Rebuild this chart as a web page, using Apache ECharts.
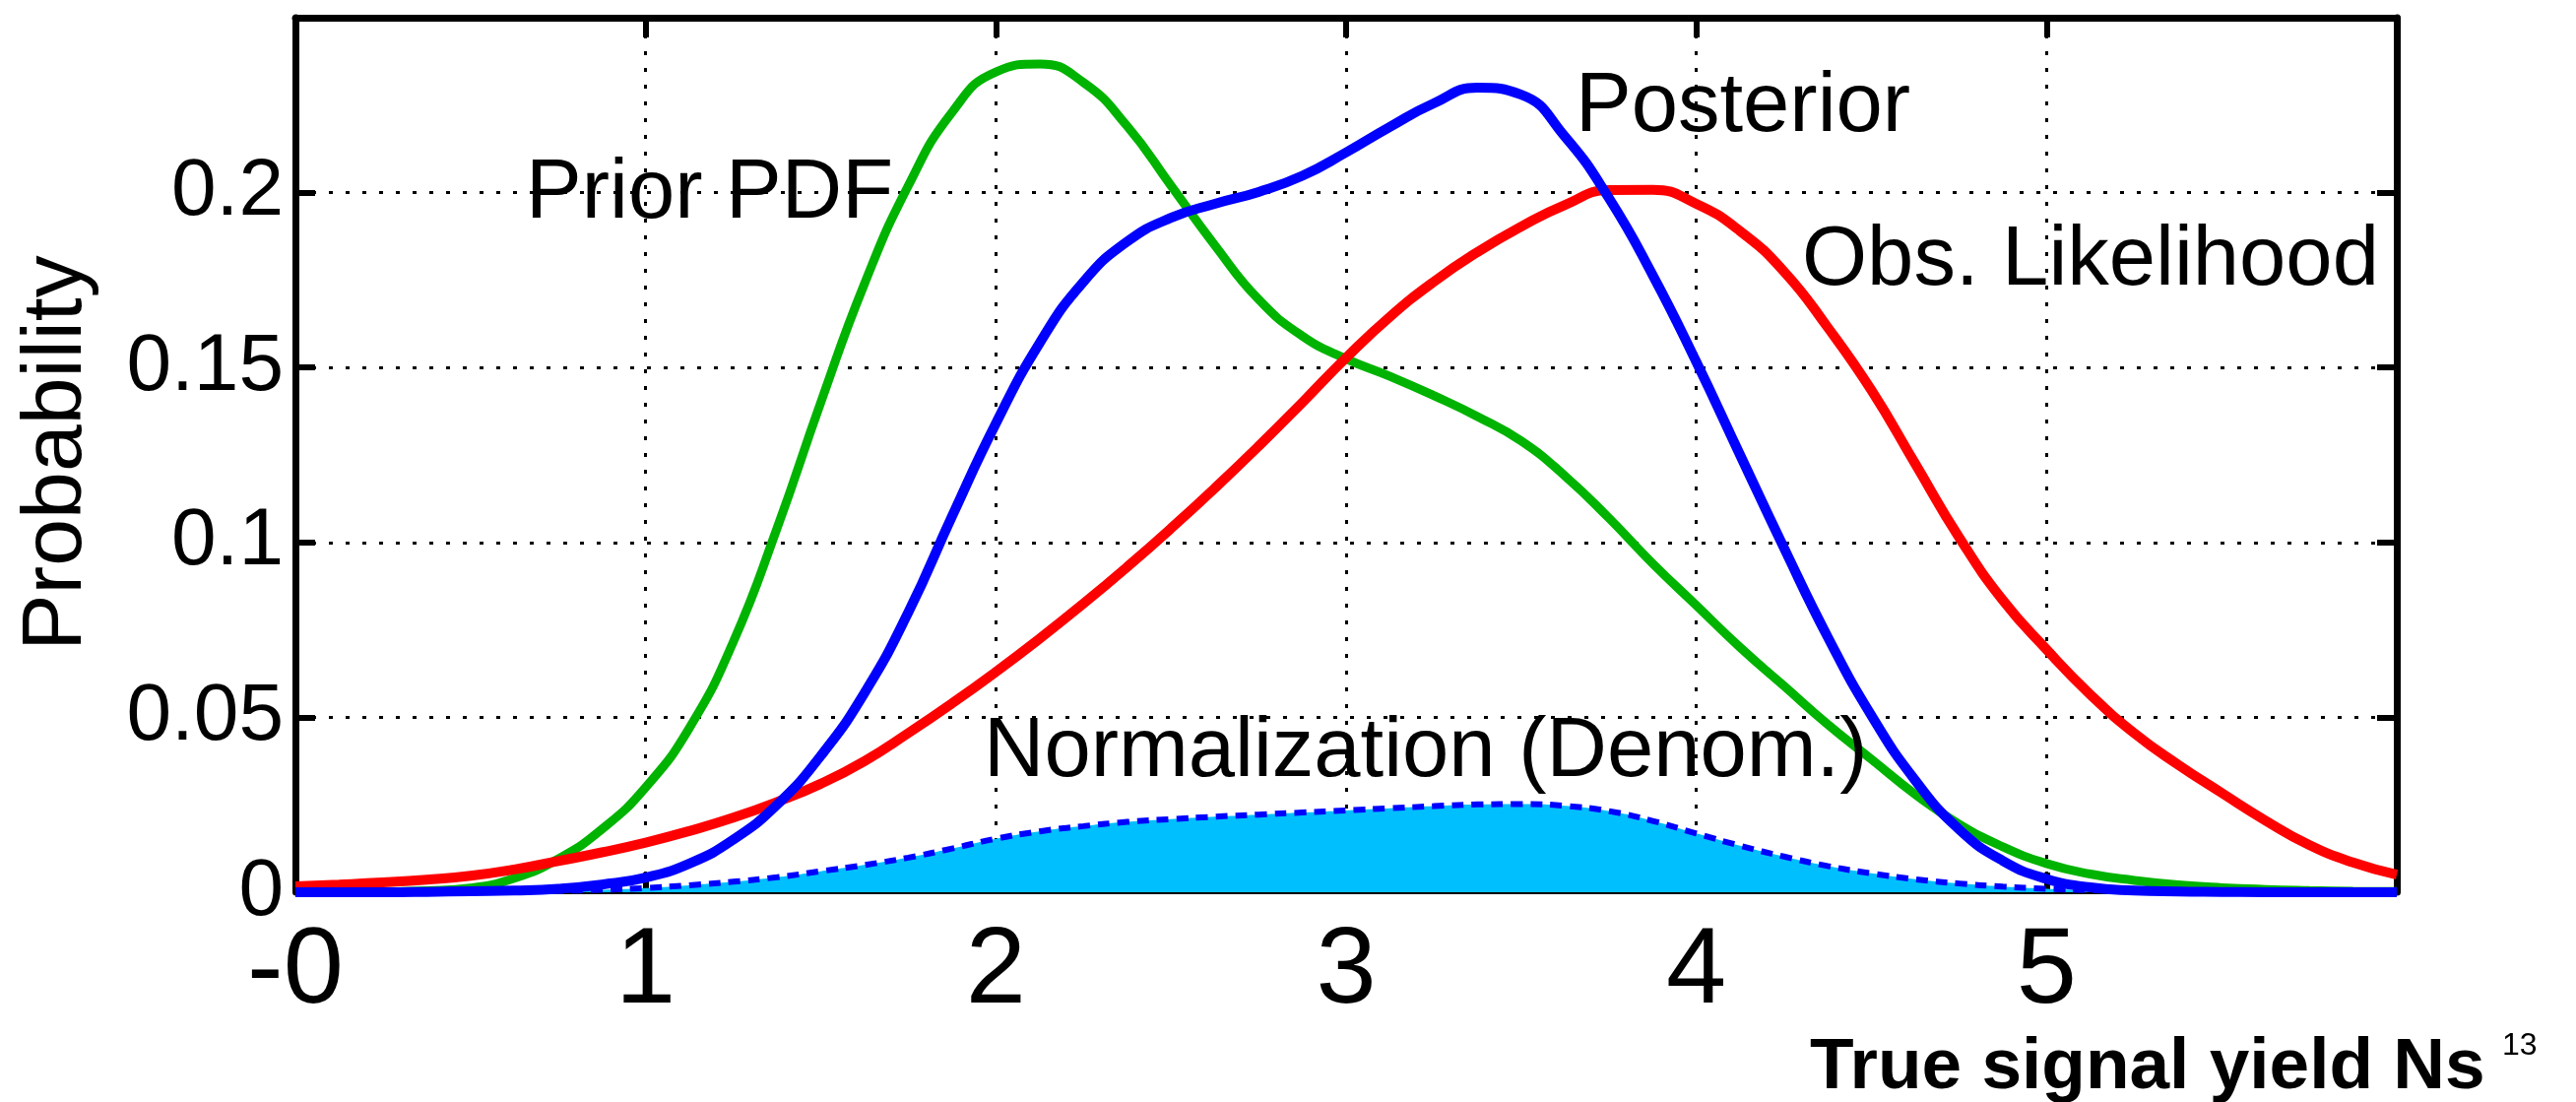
<!DOCTYPE html>
<html>
<head>
<meta charset="utf-8">
<script src="https://cdn.jsdelivr.net/npm/echarts@6/dist/echarts.min.js"></script>
<style>
html,body{margin:0;padding:0;background:#fff;}
#chart{width:2616px;height:1119px;}
</style>
</head>
<body>
<div id="chart"></div>
<script>
// ---- data ----
const ns = [0,0.125,0.25,0.375,0.5,0.625,0.75,0.875,1,1.125,1.25,1.375,1.5,1.625,1.75,1.875,2,2.125,2.25,2.375,2.5,2.625,2.75,2.875,3,3.125,3.25,3.375,3.5,3.625,3.75,3.875,4,4.125,4.25,4.375,4.5,4.625,4.75,4.875,5,5.125,5.25,5.375,5.5,5.625,5.75,5.875,6];
const priorPDF = [0,0,0.0001,0.0004,0.0012,0.004,0.0095,0.018,0.030,0.047,0.0715,0.104,0.140,0.174,0.202,0.223,0.2345,0.2368,0.2315,0.219,0.202,0.185,0.1695,0.159,0.1525,0.1475,0.142,0.136,0.129,0.119,0.107,0.094,0.082,0.070,0.059,0.048,0.038,0.028,0.0195,0.013,0.0082,0.0052,0.0034,0.0021,0.0013,0.0008,0.0005,0.0003,0.0002];
const likelihood = [0.0017,0.0022,0.0028,0.0036,0.0047,0.0065,0.0089,0.0114,0.0142,0.0175,0.0213,0.0258,0.031,0.0375,0.0455,0.054,0.063,0.0725,0.0825,0.093,0.104,0.1155,0.1275,0.140,0.1528,0.1645,0.1745,0.183,0.1903,0.1965,0.2007,0.2008,0.1968,0.189,0.1775,0.1615,0.1435,0.1225,0.1015,0.0835,0.0694,0.0565,0.0455,0.0365,0.0284,0.0205,0.0135,0.0085,0.005];
const posterior = [0,0,0,0.0001,0.0003,0.0005,0.001,0.0022,0.0042,0.0082,0.015,0.025,0.039,0.057,0.080,0.1075,0.134,0.157,0.1745,0.186,0.1928,0.1968,0.2002,0.2048,0.2115,0.2188,0.2255,0.230,0.228,0.216,0.1985,0.1765,0.1516,0.125,0.0985,0.073,0.0505,0.032,0.018,0.009,0.0038,0.0014,0.0005,0.0002,0.0001,0,0,0,0];
const normalization = [0,0,0,0.0001,0.0001,0.0002,0.0004,0.0007,0.0012,0.002,0.003,0.0043,0.006,0.0078,0.0099,0.0125,0.0153,0.0174,0.0189,0.0201,0.0209,0.0216,0.0222,0.0228,0.0234,0.024,0.0246,0.0251,0.0252,0.0247,0.0232,0.0204,0.0168,0.0133,0.0102,0.0075,0.0054,0.0037,0.0025,0.0016,0.001,0.0006,0.0004,0.0002,0.0001,0,0,0,0];
const xTickLabels = ['-0','1','2','3','4','5',''];
const yTickLabels = ['0','0.05','0.1','0.15','0.2',''];
const annotations = ['Prior PDF','Posterior','Obs. Likelihood','Normalization (Denom.)'];
const yAxisTitle = 'Probability';
const xAxisTitle = 'True signal yield Ns';
const pageNumber = '13';

const pairs = ys => ns.map((x,i)=>[x, ys[i]]);

const chart = echarts.init(document.getElementById('chart'), null, {renderer:'canvas'});
const FONT = 'Liberation Sans, Arial, Helvetica, sans-serif';
const grid = {left:300, right:182, top:18, bottom:213};
const dotted = {show:true, lineStyle:{color:'#000', width:3, type:[4,13]}};
const SM = 0.5;

const option = {
  animation:false,
  backgroundColor:'#fff',
  grid: grid,
  xAxis:[
    {type:'value', min:0, max:6, interval:1, position:'bottom',
     axisLine:{show:true, onZero:false, lineStyle:{color:'#000', width:4}},
     axisTick:{show:true, inside:true, length:20, lineStyle:{color:'#000', width:6}},
     axisLabel:{show:true, margin:27, fontFamily:FONT, fontSize:110, color:'#000',
       showMinLabel:true, showMaxLabel:true,
       formatter:v=>xTickLabels[Math.round(v)] ?? ''},
     splitLine:dotted},
    {type:'value', min:0, max:6, interval:1, position:'top',
     axisLine:{show:true, onZero:false, lineStyle:{color:'#000', width:7}},
     axisTick:{show:true, inside:true, length:20, lineStyle:{color:'#000', width:6}},
     axisLabel:{show:false}, splitLine:{show:false}}
  ],
  yAxis:[
    {type:'value', min:0, max:0.25, interval:0.05, position:'left',
     axisLine:{show:true, onZero:false, lineStyle:{color:'#000', width:7}},
     axisTick:{show:true, inside:true, length:20, lineStyle:{color:'#000', width:6}},
     axisLabel:{show:true, margin:12, fontFamily:FONT, fontSize:82, color:'#000',
       showMinLabel:true, showMaxLabel:true,
       formatter:v=>yTickLabels[Math.round(v/0.05)] ?? ''},
     splitLine:dotted},
    {type:'value', min:0, max:0.25, interval:0.05, position:'right',
     axisLine:{show:true, onZero:false, lineStyle:{color:'#000', width:7}},
     axisTick:{show:true, inside:true, length:20, lineStyle:{color:'#000', width:6}},
     axisLabel:{show:false}, splitLine:{show:false}}
  ],
  series:[
    {name:'Normalization fill', type:'line', data:pairs(normalization), smooth:SM, symbol:'none', clip:false,
     lineStyle:{width:0}, areaStyle:{color:'#00bfff', opacity:1}, z:1},
    {name:'Normalization', type:'line', data:pairs(normalization), smooth:SM, symbol:'none', clip:false,
     lineStyle:{color:'#0000ff', width:6, type:[12,8]}, z:2},
    {name:'Prior PDF', type:'line', data:pairs(priorPDF), smooth:SM, symbol:'none', clip:false,
     lineStyle:{color:'#00b300', width:9}, z:3},
    {name:'Obs. Likelihood', type:'line', data:pairs(likelihood), smooth:SM, symbol:'none', clip:false,
     lineStyle:{color:'#ff0000', width:10}, z:4},
    {name:'Posterior', type:'line', data:pairs(posterior), smooth:SM, symbol:'none', clip:false,
     lineStyle:{color:'#0000ff', width:10}, z:5}
  ],
  graphic:[
    {type:'text', x:534, y:198, z:10, style:{text:annotations[0], font:'85px '+FONT, fill:'#000', align:'left', verticalAlign:'middle'}},
    {type:'text', x:1600, y:110, z:10, style:{text:annotations[1], font:'85px '+FONT, fill:'#000', align:'left', verticalAlign:'middle'}},
    {type:'text', x:1830, y:266, z:10, style:{text:annotations[2], font:'85px '+FONT, fill:'#000', align:'left', verticalAlign:'middle'}},
    {type:'text', x:999, y:765, z:10, style:{text:annotations[3], font:'85px '+FONT, fill:'#000', align:'left', verticalAlign:'middle'}},
    {type:'text', x:58, y:460, rotation:Math.PI/2, z:10, style:{text:yAxisTitle, font:'86px '+FONT, fill:'#000', align:'center', verticalAlign:'middle'}},
    {type:'text', x:1838, y:1085, z:10, style:{text:xAxisTitle, font:'bold 73px '+FONT, fill:'#000', align:'left', verticalAlign:'middle'}},
    {type:'text', x:2541, y:1062, z:10, style:{text:pageNumber, font:'32px '+FONT, fill:'#000', align:'left', verticalAlign:'middle'}}
  ]
};
chart.setOption(option);
</script>
</body>
</html>
